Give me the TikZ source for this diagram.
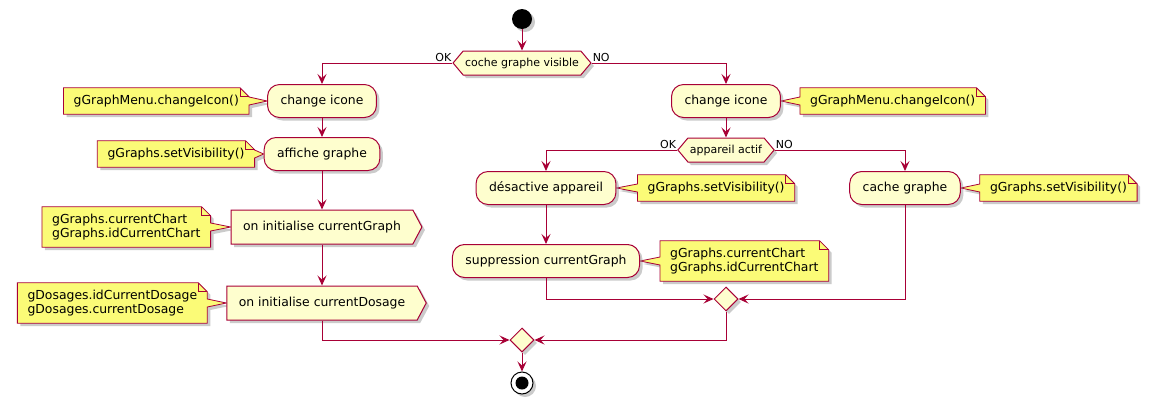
\documentclass[tikz,border=0pt]{standalone}
\usepackage{fontspec}
\setmainfont{DejaVu Sans}
\usetikzlibrary{shapes.geometric, shapes.symbols, arrows.meta, positioning, calc, backgrounds, shadows}

\definecolor{bordeaux}{HTML}{A80036}
\definecolor{creme}{HTML}{FEFECE}
\definecolor{jaune}{HTML}{FBFB77}

% Note placée à gauche de son étape
\newcommand{\noteagauche}[2]{%
  \begin{scope}[on background layer]
    \draw[remarque] (#1.north west) -- ([xshift=-9pt]#1.north east) -- ([yshift=-9pt]#1.north east)
      -- ([yshift=4pt]#1.east) -- (#2.west) -- ([yshift=-4pt]#1.east)
      -- (#1.south east) -- (#1.south west) -- cycle;
    \draw[pli] ([xshift=-9pt]#1.north east) |- ([yshift=-9pt]#1.north east);
  \end{scope}}

% Note placée à droite de son étape
\newcommand{\noteadroite}[2]{%
  \begin{scope}[on background layer]
    \draw[remarque] (#1.north west) -- ([xshift=-9pt]#1.north east) -- ([yshift=-9pt]#1.north east)
      -- (#1.south east) -- (#1.south west) -- ([yshift=-4pt]#1.west)
      -- (#2.east) -- ([yshift=4pt]#1.west) -- cycle;
    \draw[pli] ([xshift=-9pt]#1.north east) |- ([yshift=-9pt]#1.north east);
  \end{scope}}

\begin{document}
\begin{tikzpicture}[
    x=1pt, y=-1pt,
    ombre/.style={
        drop shadow={shadow xshift=3pt, shadow yshift=-3pt, fill=black!45, opacity=0.45}
    },
    etape/.style={
        rectangle,
        rounded corners=12pt,
        draw=bordeaux,
        line width=1pt,
        fill=creme,
        minimum height=33pt,
        inner xsep=13pt,
        font=\fontsize{12.4}{14}\selectfont,
        ombre
    },
    signe/.style={
        signal,
        signal to=east,
        signal pointer angle=124,
        draw=bordeaux,
        line width=1pt,
        fill=creme,
        minimum height=34pt,
        inner xsep=12pt,
        font=\fontsize{12.4}{14}\selectfont,
        ombre
    },
    choix/.style={
        signal,
        signal to=east and west,
        signal pointer angle=100,
        draw=bordeaux,
        line width=1pt,
        fill=creme,
        minimum height=24pt,
        inner xsep=2pt,
        inner ysep=0pt,
        font=\fontsize{11}{13}\selectfont,
        ombre
    },
    fusion/.style={
        diamond,
        draw=bordeaux,
        line width=1pt,
        fill=creme,
        minimum width=24pt,
        minimum height=24pt,
        inner sep=0pt,
        ombre
    },
    depart/.style={
        circle,
        fill=black,
        minimum size=20pt,
        inner sep=0pt,
        ombre
    },
    fin/.style={
        circle,
        draw=black,
        line width=1pt,
        fill=white,
        minimum size=22pt,
        inner sep=0pt,
        path picture={\fill[black] (path picture bounding box.center) circle (6.5pt);},
        ombre
    },
    texte/.style={
        inner xsep=10pt,
        inner ysep=7pt,
        align=left,
        font=\fontsize{12.4}{14}\selectfont
    },
    remarque/.style={
        draw=bordeaux,
        line width=0.8pt,
        fill=jaune,
        ombre
    },
    pli/.style={
        draw=bordeaux,
        line width=0.8pt
    },
    etiquette/.style={
        font=\fontsize{11}{13}\selectfont,
        inner sep=1pt
    },
    fleche/.style={
        -{Stealth[length=10pt, width=9pt, inset=4pt]},
        draw=bordeaux,
        line width=1pt
    }
]

% Fond
\begin{scope}[on background layer]
    \fill[white] (0,0) rectangle (1149,410);
\end{scope}
\useasboundingbox (0,0) rectangle (1149,410);

% Départ et premier choix
\node (debut) [depart] at (522,19) {};
\node (visible) [choix] at (522,63) {coche graphe visible};
\node (okvisible) [etiquette, anchor=south east] at (visible.west) {OK};
\node (novisible) [etiquette, anchor=south west] at (visible.east) {NO};

% Branche OK : affichage du graphe
\node (icone1) [etape] at (322,101) {change icone};
\node (affiche) [etape] at (322,154) {affiche graphe};
\node (initgraph) [signe] at (322,227) {on initialise currentGraph};
\node (initdosage) [signe] at (322,303) {on initialise currentDosage};

% Branche NO : masquage du graphe
\node (icone2) [etape] at (726,101) {change icone};
\node (actif) [choix] at (726,150) {appareil actif};
\node (okactif) [etiquette, anchor=south east] at (actif.west) {OK};
\node (noactif) [etiquette, anchor=south west] at (actif.east) {NO};
\node (desactive) [etape] at (546,188) {désactive appareil};
\node (suppression) [etape] at (546,261) {suppression currentGraph};
\node (cache) [etape] at (905,188) {cache graphe};

% Fusions et fin
\node (fusion2) [fusion] at (726,299) {};
\node (fusion1) [fusion] at (522,340) {};
\node (arret) [fin] at (522,383) {};

% Notes
\node (nicone1) [texte, left=18pt of icone1] {gGraphMenu.changeIcon()};
\node (naffiche) [texte, left=9pt of affiche] {gGraphs.setVisibility()};
\node (ninitgraph) [texte, left=20pt of initgraph] {gGraphs.currentChart\\gGraphs.idCurrentChart};
\node (ninitdosage) [texte, left=19pt of initdosage] {gDosages.idCurrentDosage\\gDosages.currentDosage};
\node (nicone2) [texte, right=19pt of icone2] {gGraphMenu.changeIcon()};
\node (ndesactive) [texte, right=21pt of desactive] {gGraphs.setVisibility()};
\node (nsuppression) [texte, right=20pt of suppression] {gGraphs.currentChart\\gGraphs.idCurrentChart};
\node (ncache) [texte, right=19pt of cache] {gGraphs.setVisibility()};

\noteagauche{nicone1}{icone1}
\noteagauche{naffiche}{affiche}
\noteagauche{ninitgraph}{initgraph}
\noteagauche{ninitdosage}{initdosage}
\noteadroite{nicone2}{icone2}
\noteadroite{ndesactive}{desactive}
\noteadroite{nsuppression}{suppression}
\noteadroite{ncache}{cache}

% Flux
\draw[fleche] (debut.south) -- (visible.north);
\draw[fleche] (visible.west) -| (icone1.north);
\draw[fleche] (visible.east) -| (icone2.north);
\draw[fleche] (icone1.south) -- (affiche.north);
\draw[fleche] (affiche.south) -- (initgraph.north);
\draw[fleche] (initgraph.south) -- (initdosage.north);
\draw[fleche] (initdosage.south) |- (fusion1.west);
\draw[fleche] (icone2.south) -- (actif.north);
\draw[fleche] (actif.west) -| (desactive.north);
\draw[fleche] (actif.east) -| (cache.north);
\draw[fleche] (desactive.south) -- (suppression.north);
\draw[fleche] (suppression.south) |- (fusion2.west);
\draw[fleche] (cache.south) |- (fusion2.east);
\draw[fleche] (fusion2.south) |- (fusion1.east);
\draw[fleche] (fusion1.south) -- (arret.north);

\end{tikzpicture}
\end{document}
